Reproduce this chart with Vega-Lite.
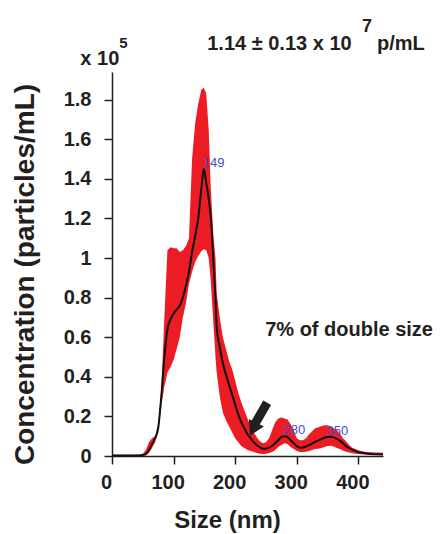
{
  "$schema": "https://vega.github.io/schema/vega-lite/v6.json",
  "width": 271,
  "height": 384,
  "autosize": {"type": "none"},
  "padding": {"left": 112, "top": 72, "right": 65, "bottom": 78},
  "background": "white",
  "config": {
    "view": {"stroke": null},
    "axis": {
      "grid": false,
      "domainColor": "#231f20",
      "domainWidth": 1.5,
      "tickColor": "#231f20",
      "tickWidth": 1.5,
      "tickSize": 8,
      "labelFont": "Liberation Sans",
      "labelFontWeight": "bold",
      "labelFontSize": 20,
      "labelColor": "#231f20",
      "titleFont": "Liberation Sans",
      "titleFontWeight": "bold",
      "titleColor": "#231f20"
    },
    "text": {"font": "Liberation Sans"}
  },
  "datasets": {
    "nta": [
      {"size": 0, "mean": 0.003, "lo": 0.0, "hi": 0.006},
      {"size": 10, "mean": 0.003, "lo": 0.0, "hi": 0.006},
      {"size": 20, "mean": 0.003, "lo": 0.0, "hi": 0.006},
      {"size": 30, "mean": 0.003, "lo": 0.0, "hi": 0.006},
      {"size": 40, "mean": 0.003, "lo": 0.0, "hi": 0.006},
      {"size": 45, "mean": 0.003, "lo": 0.0, "hi": 0.007},
      {"size": 50, "mean": 0.005, "lo": 0.0, "hi": 0.012},
      {"size": 55, "mean": 0.01, "lo": 0.003, "hi": 0.03},
      {"size": 60, "mean": 0.03, "lo": 0.015, "hi": 0.07},
      {"size": 65, "mean": 0.06, "lo": 0.04, "hi": 0.09},
      {"size": 70, "mean": 0.09, "lo": 0.07, "hi": 0.1},
      {"size": 75, "mean": 0.14, "lo": 0.13, "hi": 0.16},
      {"size": 80, "mean": 0.3, "lo": 0.25, "hi": 0.33},
      {"size": 85, "mean": 0.5, "lo": 0.35, "hi": 0.7},
      {"size": 90, "mean": 0.64, "lo": 0.42, "hi": 1.04},
      {"size": 95, "mean": 0.69, "lo": 0.45, "hi": 1.055},
      {"size": 100, "mean": 0.72, "lo": 0.485, "hi": 1.05},
      {"size": 105, "mean": 0.74, "lo": 0.54, "hi": 1.05},
      {"size": 110, "mean": 0.76, "lo": 0.6, "hi": 1.03},
      {"size": 115, "mean": 0.8, "lo": 0.7, "hi": 1.04},
      {"size": 120, "mean": 0.86, "lo": 0.77, "hi": 1.06},
      {"size": 125, "mean": 0.93, "lo": 0.87, "hi": 1.1},
      {"size": 130, "mean": 1.03, "lo": 0.93, "hi": 1.5},
      {"size": 135, "mean": 1.11, "lo": 0.98, "hi": 1.68},
      {"size": 140, "mean": 1.2, "lo": 1.01, "hi": 1.78},
      {"size": 145, "mean": 1.35, "lo": 1.035, "hi": 1.85},
      {"size": 149, "mean": 1.45, "lo": 1.045, "hi": 1.86},
      {"size": 153, "mean": 1.38, "lo": 1.04, "hi": 1.83},
      {"size": 157, "mean": 1.3, "lo": 1.0, "hi": 1.65},
      {"size": 160, "mean": 1.22, "lo": 0.9, "hi": 1.38},
      {"size": 163, "mean": 1.08, "lo": 0.75, "hi": 1.2},
      {"size": 165, "mean": 0.96, "lo": 0.65, "hi": 1.1},
      {"size": 168, "mean": 0.8, "lo": 0.5, "hi": 1.0},
      {"size": 170, "mean": 0.65, "lo": 0.42, "hi": 0.82},
      {"size": 175, "mean": 0.55, "lo": 0.3, "hi": 0.7},
      {"size": 180, "mean": 0.47, "lo": 0.22, "hi": 0.6},
      {"size": 185, "mean": 0.41, "lo": 0.18, "hi": 0.54},
      {"size": 190, "mean": 0.36, "lo": 0.15, "hi": 0.48},
      {"size": 195, "mean": 0.31, "lo": 0.12, "hi": 0.44},
      {"size": 200, "mean": 0.26, "lo": 0.09, "hi": 0.38},
      {"size": 205, "mean": 0.21, "lo": 0.07, "hi": 0.32},
      {"size": 210, "mean": 0.17, "lo": 0.05, "hi": 0.27},
      {"size": 215, "mean": 0.14, "lo": 0.04, "hi": 0.23},
      {"size": 220, "mean": 0.11, "lo": 0.03, "hi": 0.19},
      {"size": 225, "mean": 0.09, "lo": 0.025, "hi": 0.15},
      {"size": 230, "mean": 0.07, "lo": 0.02, "hi": 0.12},
      {"size": 235, "mean": 0.055, "lo": 0.015, "hi": 0.095},
      {"size": 240, "mean": 0.045, "lo": 0.012, "hi": 0.075},
      {"size": 245, "mean": 0.037, "lo": 0.01, "hi": 0.065},
      {"size": 250, "mean": 0.037, "lo": 0.012, "hi": 0.07},
      {"size": 255, "mean": 0.042, "lo": 0.015, "hi": 0.09},
      {"size": 260, "mean": 0.052, "lo": 0.02, "hi": 0.13},
      {"size": 265, "mean": 0.065, "lo": 0.03, "hi": 0.17},
      {"size": 270, "mean": 0.08, "lo": 0.045, "hi": 0.19},
      {"size": 275, "mean": 0.095, "lo": 0.055, "hi": 0.195},
      {"size": 280, "mean": 0.1, "lo": 0.065, "hi": 0.19},
      {"size": 285, "mean": 0.095, "lo": 0.06, "hi": 0.185},
      {"size": 290, "mean": 0.08, "lo": 0.045, "hi": 0.16},
      {"size": 295, "mean": 0.065, "lo": 0.035, "hi": 0.13},
      {"size": 300, "mean": 0.05, "lo": 0.025, "hi": 0.09},
      {"size": 305, "mean": 0.042, "lo": 0.02, "hi": 0.08},
      {"size": 310, "mean": 0.043, "lo": 0.02, "hi": 0.08},
      {"size": 315, "mean": 0.048, "lo": 0.022, "hi": 0.09},
      {"size": 320, "mean": 0.055, "lo": 0.025, "hi": 0.11},
      {"size": 325, "mean": 0.063, "lo": 0.03, "hi": 0.125},
      {"size": 330, "mean": 0.072, "lo": 0.035, "hi": 0.14},
      {"size": 335, "mean": 0.078, "lo": 0.037, "hi": 0.145},
      {"size": 340, "mean": 0.085, "lo": 0.04, "hi": 0.15},
      {"size": 345, "mean": 0.092, "lo": 0.045, "hi": 0.155},
      {"size": 350, "mean": 0.096, "lo": 0.05, "hi": 0.155},
      {"size": 355, "mean": 0.097, "lo": 0.052, "hi": 0.15},
      {"size": 360, "mean": 0.094, "lo": 0.048, "hi": 0.14},
      {"size": 365, "mean": 0.087, "lo": 0.04, "hi": 0.13},
      {"size": 370, "mean": 0.078, "lo": 0.035, "hi": 0.115},
      {"size": 375, "mean": 0.065, "lo": 0.028, "hi": 0.09},
      {"size": 380, "mean": 0.05, "lo": 0.022, "hi": 0.075},
      {"size": 385, "mean": 0.04, "lo": 0.018, "hi": 0.055},
      {"size": 390, "mean": 0.032, "lo": 0.014, "hi": 0.042},
      {"size": 395, "mean": 0.026, "lo": 0.012, "hi": 0.035},
      {"size": 400, "mean": 0.02, "lo": 0.01, "hi": 0.028},
      {"size": 410, "mean": 0.014, "lo": 0.008, "hi": 0.022},
      {"size": 420, "mean": 0.01, "lo": 0.006, "hi": 0.019},
      {"size": 430, "mean": 0.009, "lo": 0.006, "hi": 0.018},
      {"size": 440, "mean": 0.008, "lo": 0.005, "hi": 0.017}
    ],
    "peaks": [
      {"size": 149, "mean": 1.45, "label": "149"},
      {"size": 280, "mean": 0.1, "label": "280"},
      {"size": 350, "mean": 0.097, "label": "350"}
    ],
    "arrow": [
      {"x_from": 251.9, "y_from": 0.269, "x_to": 230.8, "y_to": 0.155, "x_head": 229.2, "y_head": 0.135}
    ],
    "notes_main": [
      {"size": -51.4, "value": 1.977, "text": "x 10"},
      {"size": 154.6, "value": 2.053, "text": "1.14 ± 0.13 x 10"},
      {"size": 430.3, "value": 2.053, "text": "p/mL"},
      {"size": 248.7, "value": 0.606, "text": "7% of double size"}
    ],
    "notes_exp5": [
      {"size": 11.8, "value": 2.063, "text": "5"}
    ],
    "notes_exp7": [
      {"size": 405.8, "value": 2.144, "text": "7"}
    ]
  },
  "layer": [
    {
      "data": {"name": "nta"},
      "mark": {"type": "area", "color": "#ed1c24", "opacity": 1, "interpolate": "linear"},
      "encoding": {
        "x": {
          "field": "size", "type": "quantitative", "title": "Size (nm)",
          "scale": {"domain": [0, 440], "nice": false, "zero": false},
          "axis": {
            "values": [0, 100, 200, 300, 400],
            "titleFontSize": 24,
            "labelOffset": -6,
            "labelPadding": 8,
            "labelFlush": false,
            "titleX": 115,
            "titleY": 71,
            "titleBaseline": "alphabetic",
            "titleAlign": "center"
          }
        },
        "y": {
          "field": "hi", "type": "quantitative", "title": "Concentration (particles/mL)",
          "scale": {"domain": [0, 1.94], "nice": false},
          "axis": {
            "values": [0, 0.2, 0.4, 0.6, 0.8, 1, 1.2, 1.4, 1.6, 1.8],
            "format": ".1~f",
            "titleFontSize": 28,
            "titleX": -79,
            "titleY": 202,
            "titleAngle": -90,
            "titleBaseline": "alphabetic",
            "titleAlign": "center",
            "labelPadding": 13
          }
        },
        "y2": {"field": "lo"}
      }
    },
    {
      "data": {"name": "nta"},
      "mark": {"type": "line", "color": "#111111", "strokeWidth": 2, "interpolate": "monotone"},
      "encoding": {
        "x": {"field": "size", "type": "quantitative", "title": "Size (nm)"},
        "y": {"field": "mean", "type": "quantitative", "title": "Concentration (particles/mL)"}
      }
    },
    {
      "data": {"name": "peaks"},
      "mark": {"type": "text", "align": "left", "baseline": "alphabetic", "dy": -2, "dx": -1, "fontSize": 13, "color": "#3d50c8", "font": "Liberation Sans"},
      "encoding": {
        "x": {"field": "size", "type": "quantitative", "title": "Size (nm)"},
        "y": {"field": "mean", "type": "quantitative", "title": "Concentration (particles/mL)"},
        "text": {"field": "label"}
      }
    },
    {
      "data": {"name": "arrow"},
      "mark": {"type": "rule", "color": "#231f20", "strokeWidth": 9, "strokeCap": "butt"},
      "encoding": {
        "x": {"field": "x_from", "type": "quantitative", "title": "Size (nm)"},
        "y": {"field": "y_from", "type": "quantitative", "title": "Concentration (particles/mL)"},
        "x2": {"field": "x_to"},
        "y2": {"field": "y_to"}
      }
    },
    {
      "data": {"name": "arrow"},
      "mark": {"type": "point", "shape": "triangle-up", "filled": true, "color": "#231f20", "opacity": 1, "size": 280, "angle": 206},
      "encoding": {
        "x": {"field": "x_head", "type": "quantitative", "title": "Size (nm)"},
        "y": {"field": "y_head", "type": "quantitative", "title": "Concentration (particles/mL)"}
      }
    },
    {
      "data": {"name": "notes_main"},
      "mark": {"type": "text", "align": "left", "baseline": "alphabetic", "fontSize": 20, "fontWeight": "bold", "color": "#231f20"},
      "encoding": {
        "x": {"field": "size", "type": "quantitative", "title": "Size (nm)"},
        "y": {"field": "value", "type": "quantitative", "title": "Concentration (particles/mL)"},
        "text": {"field": "text"}
      }
    },
    {
      "data": {"name": "notes_exp5"},
      "mark": {"type": "text", "align": "left", "baseline": "alphabetic", "fontSize": 15, "fontWeight": "bold", "color": "#231f20"},
      "encoding": {
        "x": {"field": "size", "type": "quantitative", "title": "Size (nm)"},
        "y": {"field": "value", "type": "quantitative", "title": "Concentration (particles/mL)"},
        "text": {"field": "text"}
      }
    },
    {
      "data": {"name": "notes_exp7"},
      "mark": {"type": "text", "align": "left", "baseline": "alphabetic", "fontSize": 18, "fontWeight": "bold", "color": "#231f20"},
      "encoding": {
        "x": {"field": "size", "type": "quantitative", "title": "Size (nm)"},
        "y": {"field": "value", "type": "quantitative", "title": "Concentration (particles/mL)"},
        "text": {"field": "text"}
      }
    }
  ]
}
